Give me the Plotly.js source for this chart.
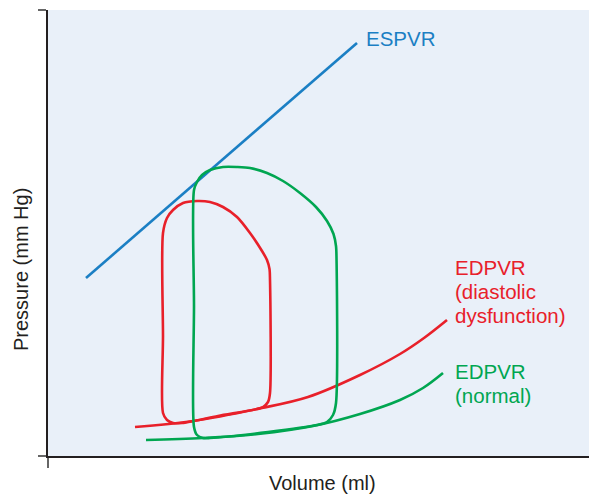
<!DOCTYPE html>
<html>
<head>
<meta charset="utf-8">
<script src="https://cdn.plot.ly/plotly-3.0.1.min.js"></script>
<style>html,body{margin:0;padding:0;background:#fff;}#chart{width:589px;height:495px;}</style>
</head>
<body>
<div id="chart"></div>
<script>
// Values (arbitrary volume / pressure units)
const espvrVolume = [38, 309];
const espvrPressure = [178, 413];

const edpvrDiastolicVolume = [87, 145, 209, 260, 312, 352, 376, 399];
const edpvrDiastolicPressure = [29, 35, 47, 59, 81, 102, 118, 136];

const edpvrNormalVolume = [98, 155, 210, 265, 312, 352, 375, 395];
const edpvrNormalPressure = [16, 18, 22, 30, 42, 56, 68, 83];

const loopDiastolicVolume = [115, 115, 119, 125, 135, 149, 162, 175, 189, 202, 214, 219, 221.5, 222, 222, 220, 215, 209, 170, 134, 125, 119, 115, 115];
const loopDiastolicPressure = [120, 223, 238, 246, 253, 255, 254, 249, 239, 223, 205, 196, 187, 176, 63, 54, 49, 47, 40, 33, 33, 36, 43, 120];

const loopNormalVolume = [146, 146, 149, 154, 162, 175, 189, 202, 219, 235, 252, 268, 279, 285.5, 288, 288.5, 288, 285, 279, 269, 220, 162, 155, 149, 146, 146];
const loopNormalPressure = [150, 266, 274, 281, 286, 289, 289, 288, 283, 275, 263, 249, 235, 222, 210, 198, 53, 41, 34, 31, 24, 18, 18, 21, 29, 150];

const labelTexts = ['ESPVR', 'EDPVR', '(diastolic', 'dysfunction)', 'EDPVR', '(normal)'];
const labelVolume = [316, 405, 405, 405, 405, 405];
const labelPressure = [418, 189, 165, 141, 85, 61];
const labelSeries = ['espvr', 'diastolic', 'diastolic', 'diastolic', 'normal', 'normal'];

const xTitle = 'Volume (ml)';
const yTitle = 'Pressure (mm Hg)';

const colors = {espvr: '#1b7fc4', diastolic: '#e8202a', normal: '#00a651'};
const lw = 2.6;

const traces = [
  {x: espvrVolume, y: espvrPressure, mode: 'lines', line: {color: colors.espvr, width: lw}, hoverinfo: 'skip'},
  {x: edpvrDiastolicVolume, y: edpvrDiastolicPressure, mode: 'lines', line: {color: colors.diastolic, width: lw, shape: 'spline', smoothing: 1}, hoverinfo: 'skip'},
  {x: edpvrNormalVolume, y: edpvrNormalPressure, mode: 'lines', line: {color: colors.normal, width: lw, shape: 'spline', smoothing: 1}, hoverinfo: 'skip'},
  {x: loopDiastolicVolume, y: loopDiastolicPressure, mode: 'lines', line: {color: colors.diastolic, width: lw, shape: 'spline', smoothing: 0.8}, hoverinfo: 'skip'},
  {x: loopNormalVolume, y: loopNormalPressure, mode: 'lines', line: {color: colors.normal, width: lw, shape: 'spline', smoothing: 0.8}, hoverinfo: 'skip'}
];

const font = 'Liberation Sans, Arial, Helvetica, sans-serif';

const annotations = labelTexts.map((t, i) => ({
  x: labelVolume[i], y: labelPressure[i], xref: 'x', yref: 'y', text: t, showarrow: false,
  xanchor: 'left', yanchor: 'middle', align: 'left',
  font: {family: font, size: 20.5, color: colors[labelSeries[i]]}
}));
// axis titles (placed as in the original figure)
annotations.push({
  x: 0.508, y: 0, xref: 'paper', yref: 'paper', yshift: -27, text: xTitle, showarrow: false, borderpad: 0,
  xanchor: 'center', yanchor: 'middle', font: {family: font, size: 20, color: '#231f20'}
});
annotations.push({
  x: 0, y: 0.417, xref: 'paper', yref: 'paper', xshift: -27, text: yTitle, showarrow: false, textangle: -90,
  xanchor: 'center', yanchor: 'middle', font: {family: font, size: 20, color: '#231f20'}
});

const layout = {
  width: 589, height: 495,
  margin: {l: 48, r: 0, t: 10, b: 39},
  paper_bgcolor: '#ffffff',
  plot_bgcolor: '#e9f0f9',
  showlegend: false,
  font: {family: font, size: 20, color: '#231f20'},
  xaxis: {
    range: [0, 541], showgrid: false, zeroline: false,
    showline: true, linecolor: '#231f20', linewidth: 2,
    tickvals: [0], ticks: 'outside', ticklen: 10, tickcolor: '#666', tickwidth: 2,
    showticklabels: false
  },
  yaxis: {
    range: [0, 446], showgrid: false, zeroline: false,
    showline: true, linecolor: '#231f20', linewidth: 2,
    tickvals: [0, 446], ticks: 'outside', ticklen: 8, tickcolor: '#666', tickwidth: 2,
    showticklabels: false
  },
  annotations: annotations
};

Plotly.newPlot('chart', traces, layout, {displayModeBar: false, staticPlot: true});
</script>
</body>
</html>
